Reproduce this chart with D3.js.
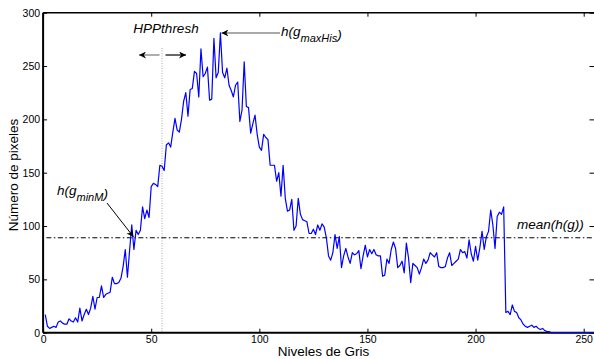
<!DOCTYPE html>
<html>
<head>
<meta charset="utf-8">
<script src="https://cdn.jsdelivr.net/npm/d3@7"></script>
<style>
  body { margin: 0; background: #fff; }
  svg { display: block; font-family: "Liberation Sans", Arial, sans-serif; }
</style>
</head>
<body>
<div id="chart"></div>
<script>
// Histogram counts for grey levels 1..255
const histogram = [
  17, 6, 4, 5, 6, 5, 10, 11, 9, 8,
  8, 13, 11, 10, 14, 10, 23, 11, 17, 22,
  17, 23, 34, 22, 33, 33, 44, 33, 36, 37,
  38, 52, 46, 46, 47, 51, 62, 78, 52, 77,
  101, 78, 96, 92, 96, 118, 107, 115, 108, 137,
  140, 139, 137, 157, 156, 152, 176, 178, 174, 188,
  201, 190, 188, 200, 217, 225, 203, 228, 229, 245,
  243, 221, 266, 240, 243, 249, 218, 219, 276, 239,
  244, 281, 244, 239, 248, 232, 227, 221, 232, 235,
  198, 209, 254, 212, 211, 187, 196, 204, 186, 174,
  171, 186, 183, 181, 157, 157, 157, 142, 150, 128,
  157, 126, 114, 115, 125, 96, 100, 126, 111, 106,
  105, 104, 93, 93, 97, 92, 101, 96, 102, 99,
  89, 72, 68, 75, 92, 79, 90, 61, 72, 79,
  71, 65, 75, 73, 74, 77, 60, 72, 82, 71,
  78, 74, 78, 73, 72, 72, 53, 54, 69, 65,
  78, 85, 79, 61, 63, 67, 56, 84, 70, 47,
  65, 63, 61, 55, 61, 69, 65, 68, 75, 73,
  71, 75, 62, 61, 61, 62, 70, 75, 63, 65,
  67, 69, 78, 75, 76, 70, 87, 74, 67, 81,
  68, 80, 95, 78, 90, 95, 115, 101, 79, 109,
  113, 111, 118, 19, 20, 17, 26, 20, 19, 14,
  12, 8, 6, 5, 6, 7, 5, 6, 4, 3,
  4, 2, 1, 1, 0, 0, 0, 0, 0, 0,
  0, 0, 0, 0, 0, 0, 0, 0, 0, 0,
  0, 0, 0, 0, 0
];
const firstLevel = 1;

const xTicks = [0, 50, 100, 150, 200, 250];
const yTicks = [0, 50, 100, 150, 200, 250, 300];

const meanValue = 89;      // mean(h(g))
const hppThresh = 55;      // HPPthresh
const gMinM = 42;          // h(g_minM)
const gMaxHis = 82;        // h(g_maxHis)

const width = 594;
const height = 359;

const x = d3.scaleLinear().domain([0, 255]).range([43.1, 594.5]);
const y = d3.scaleLinear().domain([0, 300]).range([332.7, 12.7]);

const svg = d3.select('#chart').append('svg')
  .attr('width', width)
  .attr('height', height);

const defs = svg.append('defs');
defs.append('marker')
  .attr('id', 'head')
  .attr('viewBox', '0 0 10 10')
  .attr('refX', 10).attr('refY', 5)
  .attr('markerWidth', 7).attr('markerHeight', 7)
  .attr('markerUnits', 'userSpaceOnUse')
  .attr('orient', 'auto')
  .append('path')
  .attr('d', 'M0,0 L10,5 L0,10 L3,5 Z')
  .attr('fill', '#000');

/* Axes
=========================================================================*/
const fmt = d3.format('d');

const axisL = svg.append('g')
  .attr('transform', `translate(${x(0)},0)`)
  .call(d3.axisLeft(y).tickValues(yTicks).tickSize(-4).tickPadding(3).tickFormat(fmt));
const axisB = svg.append('g')
  .attr('transform', `translate(0,${y(0)})`)
  .call(d3.axisBottom(x).tickValues(xTicks).tickSize(-4).tickPadding(2.5).tickFormat(fmt));
const axisT = svg.append('g')
  .attr('transform', `translate(0,${y(300)})`)
  .call(d3.axisTop(x).tickValues(xTicks).tickSize(-4).tickFormat(''));
const axisR = svg.append('g')
  .attr('transform', `translate(${x(255)},0)`)
  .call(d3.axisRight(y).tickValues(yTicks).tickSize(-5).tickFormat(''));

[axisL, axisB, axisT, axisR].forEach((g) => {
  g.select('.domain').remove();
  g.selectAll('line').attr('stroke', '#000').attr('stroke-width', 1);
  g.selectAll('text').attr('font-size', 10.5).attr('fill', '#000')
    .attr('font-family', '"Liberation Sans", Arial, sans-serif');
});

// box
svg.append('line').attr('x1', x(0)).attr('x2', x(255)).attr('y1', y(300)).attr('y2', y(300))
  .attr('stroke', '#000').attr('stroke-width', 1.5);
svg.append('line').attr('x1', x(255)).attr('x2', x(255)).attr('y1', y(300)).attr('y2', y(0))
  .attr('stroke', '#888').attr('stroke-width', 1);

// threshold dotted line
svg.append('line')
  .attr('x1', x(hppThresh)).attr('x2', x(hppThresh))
  .attr('y1', 48).attr('y2', y(0))
  .attr('stroke', '#aaa').attr('stroke-width', 1)
  .attr('stroke-dasharray', '1,1.5');

// mean line
svg.append('line')
  .attr('x1', x(1.5)).attr('x2', x(255))
  .attr('y1', y(meanValue)).attr('y2', y(meanValue))
  .attr('stroke', '#000').attr('stroke-width', 1)
  .attr('stroke-dasharray', '5,2.5,1.5,2.5');

svg.append('line').attr('x1', x(0)).attr('x2', x(255)).attr('y1', y(0)).attr('y2', y(0))
  .attr('stroke', '#000').attr('stroke-width', 2);
svg.append('line').attr('x1', x(0)).attr('x2', x(0)).attr('y1', y(300)).attr('y2', y(0))
  .attr('stroke', '#000').attr('stroke-width', 2);

/* Histogram line
=========================================================================*/
const line = d3.line()
  .x((d, i) => x(i + firstLevel))
  .y((d) => y(d));

svg.append('path')
  .datum(histogram)
  .attr('fill', 'none')
  .attr('stroke', '#0000ff')
  .attr('stroke-width', 1.2)
  .attr('stroke-linejoin', 'round')
  .attr('d', line);

/* Annotations
=========================================================================*/
const italic = (g) => g.attr('font-style', 'italic').attr('fill', '#000');

svg.append('text').call(italic)
  .attr('x', 166).attr('y', 33).attr('text-anchor', 'middle')
  .attr('font-size', 13.5).text('HPPthresh');

svg.append('line').attr('x1', 159.5).attr('x2', 139).attr('y1', 55).attr('y2', 55)
  .attr('stroke', '#777').attr('stroke-width', 1.2).attr('marker-end', 'url(#head)');
svg.append('line').attr('x1', 165.5).attr('x2', 186).attr('y1', 55).attr('y2', 55)
  .attr('stroke', '#000').attr('stroke-width', 1.2).attr('marker-end', 'url(#head)');

// h(g_maxHis)
const tMax = svg.append('text').call(italic).attr('x', 281).attr('y', 36).attr('font-size', 13.5);
tMax.append('tspan').text('h(g');
tMax.append('tspan').attr('font-size', 11).attr('dy', 6).text('maxHis');
tMax.append('tspan').attr('dy', -3).text(')');
svg.append('line').attr('x1', 280).attr('x2', x(gMaxHis) + 1).attr('y1', 33).attr('y2', 33)
  .attr('stroke', '#555').attr('stroke-width', 1.2).attr('marker-end', 'url(#head)');

// h(g_minM)
const tMin = svg.append('text').call(italic).attr('x', 57).attr('y', 195).attr('font-size', 13.5);
tMin.append('tspan').text('h(g');
tMin.append('tspan').attr('font-size', 11).attr('dy', 6).text('minM');
tMin.append('tspan').attr('dy', -3).text(')');
svg.append('line').attr('x1', 107).attr('x2', x(gMinM) - 0.5).attr('y1', 203).attr('y2', y(meanValue) - 1)
  .attr('stroke', '#000').attr('stroke-width', 1).attr('marker-end', 'url(#head)');

// mean(h(g))
svg.append('text').call(italic)
  .attr('x', 517).attr('y', 229).attr('font-size', 13.5).text('mean(h(g))');

/* Axis labels
=========================================================================*/
svg.append('text')
  .attr('x', 323.5).attr('y', 356)
  .attr('text-anchor', 'middle').attr('font-size', 13.5).attr('fill', '#000')
  .text('Niveles de Gris');

svg.append('text')
  .attr('transform', 'translate(17.5,175) rotate(-90)')
  .attr('text-anchor', 'middle').attr('font-size', 13.5).attr('fill', '#000')
  .text('Número de pixeles');
</script>
</body>
</html>
